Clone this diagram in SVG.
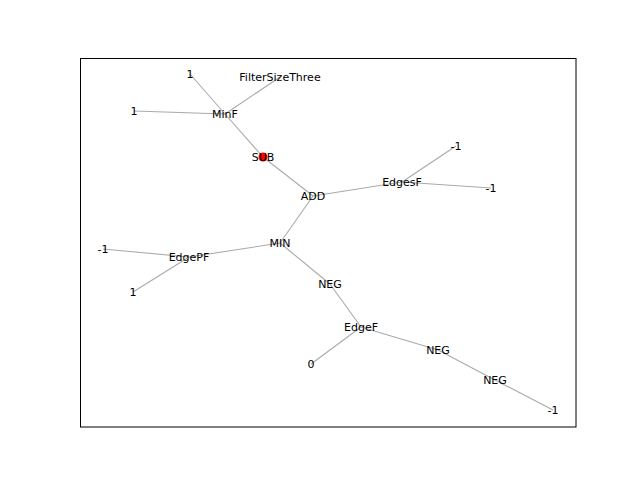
<svg xmlns="http://www.w3.org/2000/svg" width="640" height="480" viewBox="0 0 640 480">
<style>
.e{stroke:#aaaaaa;stroke-width:1.1;fill:none}
.t{font-family:"DejaVu Sans",sans-serif;font-size:11px;fill:#000;text-anchor:middle}
</style>
<rect width="640" height="480" fill="#fff"/>
<rect x="80.5" y="58.5" width="495.5" height="368.5" fill="none" stroke="#000" stroke-width="1"/>
<g id="edges">
<line class="e" x1="190" y1="74" x2="225" y2="114"/>
<line class="e" x1="280" y1="77" x2="225" y2="114"/>
<line class="e" x1="134" y1="111" x2="225" y2="114"/>
<line class="e" x1="225" y1="114" x2="263" y2="157"/>
<line class="e" x1="263" y1="157" x2="313" y2="196"/>
<line class="e" x1="313" y1="196" x2="402" y2="182"/>
<line class="e" x1="402" y1="182" x2="456" y2="146"/>
<line class="e" x1="402" y1="182" x2="491" y2="188"/>
<line class="e" x1="313" y1="196" x2="280" y2="243"/>
<line class="e" x1="280" y1="243" x2="189" y2="257"/>
<line class="e" x1="189" y1="257" x2="103" y2="249"/>
<line class="e" x1="189" y1="257" x2="133" y2="292"/>
<line class="e" x1="280" y1="243" x2="330" y2="284"/>
<line class="e" x1="330" y1="284" x2="361" y2="327"/>
<line class="e" x1="361" y1="327" x2="311" y2="364"/>
<line class="e" x1="361" y1="327" x2="438" y2="350"/>
<line class="e" x1="438" y1="350" x2="495" y2="380"/>
<line class="e" x1="495" y1="380" x2="553" y2="410"/>
</g>
<g id="n_sub"><circle cx="263" cy="157" r="4.5" fill="#ff0000"/><text class="t" x="263" y="161">SUB</text></g>
<g id="n_1a"><text class="t" x="190" y="78">1</text></g>
<g id="n_fst"><text class="t" x="280" y="81">FilterSizeThree</text></g>
<g id="n_1b"><text class="t" x="134" y="115">1</text></g>
<g id="n_minf"><text class="t" x="225" y="118">MinF</text></g>
<g id="n_add"><text class="t" x="313" y="200">ADD</text></g>
<g id="n_edgesf"><text class="t" x="402" y="186">EdgesF</text></g>
<g id="n_m1a"><text class="t" x="456" y="150">-1</text></g>
<g id="n_m1b"><text class="t" x="491" y="192">-1</text></g>
<g id="n_min"><text class="t" x="280" y="247">MIN</text></g>
<g id="n_edgepf"><text class="t" x="189" y="261">EdgePF</text></g>
<g id="n_m1c"><text class="t" x="103" y="253">-1</text></g>
<g id="n_1c"><text class="t" x="133" y="296">1</text></g>
<g id="n_neg1"><text class="t" x="330" y="288">NEG</text></g>
<g id="n_edgef"><text class="t" x="361" y="331">EdgeF</text></g>
<g id="n_0"><text class="t" x="311" y="368">0</text></g>
<g id="n_neg2"><text class="t" x="438" y="354">NEG</text></g>
<g id="n_neg3"><text class="t" x="495" y="384">NEG</text></g>
<g id="n_m1d"><text class="t" x="553" y="414">-1</text></g>
</svg>
